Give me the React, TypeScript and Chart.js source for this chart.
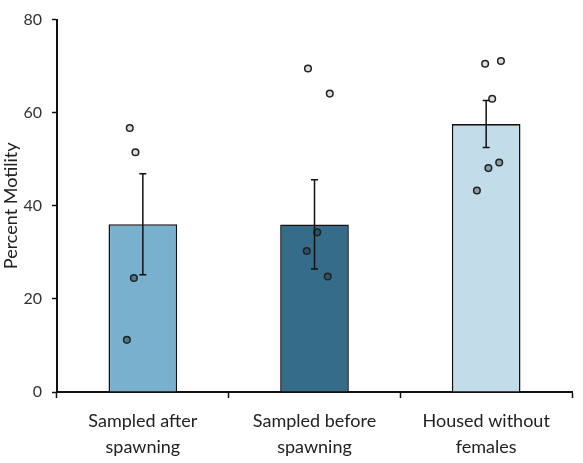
import React, { useEffect, useRef } from "react";
import { Chart, registerables } from "chart.js";

Chart.register(...registerables);

const categories: string[][] = [
  ["Sampled after", "spawning"],
  ["Sampled before", "spawning"],
  ["Housed without", "females"],
];
const means: number[] = [36.05, 36.0, 57.55];
const sem: number[] = [10.85, 9.6, 5.05];

const group1: number[] = [56.7, 51.5, 24.5, 11.2];
const jitter1: number[] = [-0.076, -0.043, -0.052, -0.093];
const group2: number[] = [69.5, 64.1, 34.3, 30.3, 24.8];
const jitter2: number[] = [-0.038, 0.089, 0.016, -0.045, 0.077];
const group3: number[] = [70.5, 71.1, 63.0, 49.3, 48.1, 43.3];
const jitter3: number[] = [-0.006, 0.086, 0.035, 0.076, 0.013, -0.054];

const yTicks: number[] = [0, 20, 40, 60, 80];

const barColors = ["#78b0cd", "#356c8a", "#c3dce9"];
const pointInsideColors = ["#50788c", "#2a5468", "#8b9ba3"];
const pointOutsideColor = "#dedede";

const FONT = "Lato";

const errorBarPlugin = {
  id: "errorBars",
  afterDatasetsDraw(chart: any) {
    const meta = chart.getDatasetMeta(0);
    const y = chart.scales.y;
    const ctx = chart.ctx;
    ctx.save();
    ctx.strokeStyle = "#111";
    ctx.lineWidth = 1.5;
    meta.data.forEach((el: any, i: number) => {
      const x = el.x;
      const top = y.getPixelForValue(means[i] + sem[i]);
      const bot = y.getPixelForValue(means[i] - sem[i]);
      const cap = 3.5;
      ctx.beginPath();
      ctx.moveTo(x, top);
      ctx.lineTo(x, bot);
      ctx.moveTo(x - cap, top);
      ctx.lineTo(x + cap, top);
      ctx.moveTo(x - cap, bot);
      ctx.lineTo(x + cap, bot);
      ctx.stroke();
    });
    ctx.restore();
  },
};

export default function App() {
  const ref = useRef<HTMLCanvasElement | null>(null);

  useEffect(() => {
    if (!ref.current) return;
    const groups = [group1, group2, group3];
    const jitters = [jitter1, jitter2, jitter3];
    const points: { x: number; y: number; g: number }[] = [];
    groups.forEach((vals, g) => {
      vals.forEach((v, k) => points.push({ x: g + jitters[g][k], y: v, g }));
    });

    const chart = new Chart(ref.current, {
      type: "bar",
      data: {
        labels: categories as any,
        datasets: [
          {
            type: "bar",
            data: means,
            backgroundColor: barColors,
            borderColor: "#111",
            borderWidth: 1.6,
            barPercentage: 0.4,
            categoryPercentage: 1,
            grouped: false,
            order: 2,
          } as any,
          {
            type: "scatter",
            data: points,
            xAxisID: "xj",
            yAxisID: "y",
            pointRadius: 3.3,
            pointBorderWidth: 1.5,
            pointBorderColor: "#222",
            pointBackgroundColor: (c: any) => {
              const r = c.raw;
              if (!r) return pointOutsideColor;
              return r.y > means[r.g] ? pointOutsideColor : pointInsideColors[r.g];
            },
            order: 1,
          } as any,
        ],
      },
      options: {
        animation: false,
        responsive: true,
        maintainAspectRatio: false,
        layout: { padding: { top: 17, right: 11, left: 0, bottom: 0 } },
        plugins: {
          legend: { display: false },
          tooltip: { enabled: false },
        },
        scales: {
          x: {
            type: "category",
            offset: true,
            grid: {
              display: true,
              drawOnChartArea: false,
              drawTicks: true,
              tickLength: 6,
              tickWidth: 1.5,
              tickColor: "#111",
              offset: true,
            },
            border: { display: true, color: "#111", width: 2 },
            ticks: {
              color: "#222",
              font: { family: FONT, size: 18, lineHeight: 1.45 },
              padding: 10,
              maxRotation: 0,
              autoSkip: false,
            },
            afterFit: (s: any) => {
              s.height = 71;
            },
          },
          xj: {
            type: "linear",
            display: false,
            offset: false,
            grid: { offset: false },
            min: -0.5,
            max: 2.5,
          },
          y: {
            type: "linear",
            min: 0,
            max: 80,
            afterBuildTicks: (s: any) => {
              s.ticks = yTicks.map((v) => ({ value: v }));
            },
            grid: {
              display: true,
              drawOnChartArea: false,
              drawTicks: true,
              tickLength: 5,
              tickWidth: 1.5,
              tickColor: "#111",
            },
            border: { display: true, color: "#111", width: 2 },
            ticks: {
              color: "#333",
              font: { family: FONT, size: 16 },
              padding: 10,
            },
            title: {
              display: true,
              text: "Percent Motility",
              color: "#222",
              font: { family: FONT, size: 18 },
              padding: { top: 0, bottom: 0 },
            },
            afterFit: (s: any) => {
              s.width = 57;
            },
          },
        },
      },
      plugins: [errorBarPlugin],
    });
    return () => chart.destroy();
  }, []);

  return (
    <div style={{ position: "fixed", left: 0, top: 0, width: 583, height: 463, background: "#fff" }}>
      <canvas ref={ref} />
    </div>
  );
}
